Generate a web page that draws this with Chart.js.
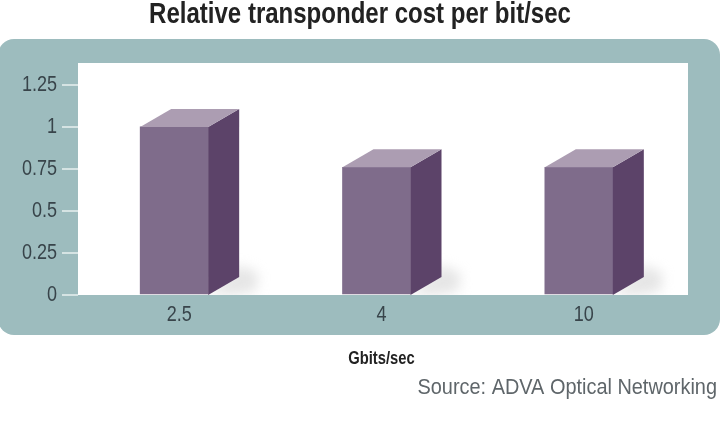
<!DOCTYPE html>
<html lang="en">
<head>
  <meta charset="UTF-8" />
  <title>Relative transponder cost per bit/sec</title>
  <script src="https://cdn.jsdelivr.net/npm/chart.js"></script>
  <style>
    html, body { margin: 0; padding: 0; background: #fff; }
    #wrap { width: 720px; height: 436px; }
  </style>
</head>
<body>
  <div id="wrap"><canvas id="costChart" width="720" height="436"></canvas></div>

  <script>
    const categories = ['2.5', '4', '10'];
    const relativeCost = [1, 0.76, 0.76];
    const yTicks = [0, 0.25, 0.5, 0.75, 1, 1.25];

    const sans = "'Liberation Sans', sans-serif";
    const textColor = '#38444a';
    const panelColor = '#9dbcbe';

    // no condensed face is installed, so squeeze all text horizontally
    let squeeze = 0.82;
    const canvas = document.getElementById('costChart');
    const rawCtx = canvas.getContext('2d');
    const rawFillText = rawCtx.fillText;
    rawCtx.fillText = function (text, x, y) {
      this.save();
      this.translate(x, y);
      this.scale(squeeze, 1);
      rawFillText.call(this, text, 0, 0);
      this.restore();
    };

    // panel behind the plot, white plot area, and the floor shadows
    const panelPlugin = {
      id: 'panel',
      afterLayout(chart) {
        // title is centred on the page, not on the plot
        chart.titleBlock.left = 0;
        chart.titleBlock.right = chart.width;
      },
      beforeDraw(chart) {
        const { ctx, chartArea: a } = chart;
        ctx.save();
        ctx.fillStyle = panelColor;
        ctx.beginPath();
        ctx.roundRect(-2, 39, 722, 296, 16);
        ctx.fill();
        ctx.fillStyle = '#fff';
        ctx.fillRect(a.left, a.top, a.right + 3 - a.left, a.bottom - a.top);
        ctx.restore();
      },
      beforeDatasetsDraw(chart) {
        const { ctx, chartArea: a } = chart;
        ctx.save();
        ctx.beginPath();
        ctx.rect(a.left, a.top, a.right + 3 - a.left, a.bottom - a.top);
        ctx.clip();
        chart.getDatasetMeta(0).data.forEach(bar => {
          const r = bar.x + bar.width / 2;
          ctx.fillStyle = 'rgba(205,205,205,0.5)';
          ctx.filter = 'blur(6px)';
          ctx.beginPath();
          ctx.moveTo(r, a.bottom);
          ctx.lineTo(r + 31, a.bottom - 30);
          ctx.lineTo(r + 50, a.bottom - 22);
          ctx.lineTo(r + 48, a.bottom - 4);
          ctx.lineTo(r + 26, a.bottom);
          ctx.closePath();
          ctx.fill();
          ctx.filter = 'none';
        });
        ctx.restore();
      },
      afterDatasetsDraw(chart) {
        const { ctx, chartArea: a } = chart;
        const dx = 31, dy = 18;
        ctx.save();
        chart.getDatasetMeta(0).data.forEach(bar => {
          const l = bar.x - bar.width / 2;
          const r = bar.x + bar.width / 2;
          ctx.fillStyle = '#5c4369';
          ctx.beginPath();
          ctx.moveTo(r, bar.y);
          ctx.lineTo(r + dx, bar.y - dy);
          ctx.lineTo(r + dx, a.bottom - dy);
          ctx.lineTo(r, a.bottom);
          ctx.closePath();
          ctx.fill();
          ctx.fillStyle = '#ac9db2';
          ctx.beginPath();
          ctx.moveTo(l, bar.y);
          ctx.lineTo(l + dx, bar.y - dy);
          ctx.lineTo(r + dx, bar.y - dy);
          ctx.lineTo(r, bar.y);
          ctx.closePath();
          ctx.fill();
        });
        ctx.fillStyle = '#5f666a';
        ctx.font = '22px ' + sans;
        ctx.textAlign = 'right';
        ctx.textBaseline = 'middle';
        squeeze = 0.905;
        ctx.fillText('Source: ADVA Optical Networking', 717, 388);
        squeeze = 0.82;
        ctx.restore();
      }
    };

    // bars sit a little left of their tick labels in the original
    const shiftBars = {
      id: 'shiftBars',
      afterDatasetsUpdate(chart) {
        chart.getDatasetMeta(0).data.forEach(bar => { bar.x -= 5; });
      }
    };

    new Chart(canvas, {
      type: 'bar',
      data: {
        labels: categories,
        datasets: [{
          data: relativeCost,
          backgroundColor: '#7f6c8b',
          barThickness: 68
        }]
      },
      plugins: [panelPlugin, shiftBars],
      options: {
        responsive: false,
        animation: false,
        layout: { padding: { left: 0, right: 35, top: 0, bottom: 66 } },
        plugins: {
          legend: { display: false },
          tooltip: { enabled: false },
          title: {
            display: true,
            text: 'Relative transponder cost per bit/sec',
            color: '#222',
            font: { family: sans, size: 29.3, weight: 'bold', lineHeight: 1 },
            padding: { top: 0, bottom: 33.7 }
          }
        },
        scales: {
          x: {
            grid: { display: false },
            border: { display: false },
            ticks: { color: textColor, font: { family: sans, size: 22 }, padding: -1, maxRotation: 0 },
            title: {
              display: true,
              text: 'Gbits/sec',
              color: '#222',
              font: { family: sans, size: 18, weight: 'bold' },
              padding: 0
            },
            afterFit(axis) { axis.height = 75; }
          },
          y: {
            min: 0,
            max: 1.38,
            afterBuildTicks(axis) { axis.ticks = yTicks.map(v => ({ value: v })); },
            grid: { drawOnChartArea: false, tickLength: 16, tickColor: '#d5e3e3', lineWidth: 2 },
            border: { display: false },
            ticks: {
              color: textColor,
              font: { family: sans, size: 22 },
              padding: 5,
              callback: v => String(v)
            },
            afterFit(axis) { axis.width = 78; }
          }
        }
      }
    });
  </script>
</body>
</html>
